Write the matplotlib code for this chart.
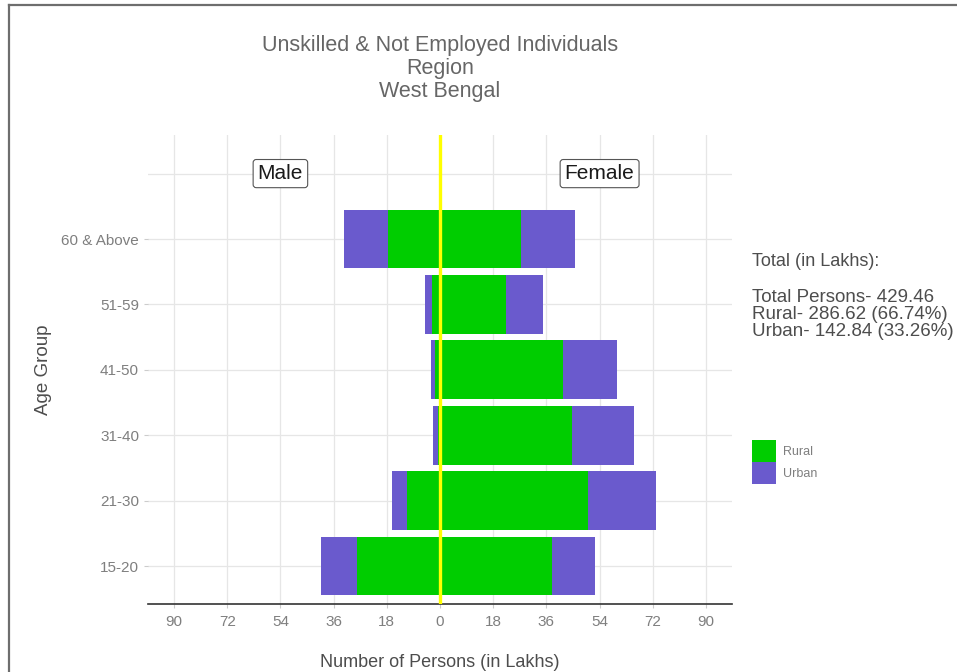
import matplotlib
matplotlib.use("Agg")
import matplotlib.pyplot as plt
from matplotlib.patches import Patch
from matplotlib.lines import Line2D
import numpy as np

plt.rcParams['font.family'] = ['Liberation Sans', 'DejaVu Sans']

age_groups = ["15-20", "21-30", "31-40", "41-50", "51-59", "60 & Above"]
male_rural = [28.0, 11.2, 0.6, 1.7, 2.8, 17.5]
male_urban = [12.1, 4.9, 1.6, 1.3, 2.3, 14.9]
female_rural = [38.0, 50.2, 44.8, 41.5, 22.2, 27.4]
female_urban = [14.6, 23.0, 20.7, 18.5, 12.5, 18.3]
x_ticks = [-90, -72, -54, -36, -18, 0, 18, 36, 54, 72, 90]
x_tick_labels = ["90", "72", "54", "36", "18", "0", "18", "36", "54", "72", "90"]
title_lines = ["Unskilled & Not Employed Individuals", "Region", "West Bengal"]
summary_head = "Total (in Lakhs):"
summary_lines = ["Total Persons- 429.46", "Rural- 286.62 (66.74%)", "Urban- 142.84 (33.26%)"]

RURAL = "#00CD00"
URBAN = "#6A5ACD"
TXT = "#4D4D4D"
TICK = "#7F7F7F"

W, H = 957, 672
fig = plt.figure(figsize=(W/100, H/100), dpi=100)
ax = fig.add_axes([148/W, 68/H, 584/W, 469/H])

pos = np.arange(1, len(age_groups) + 1)
mr = -np.array(male_rural)
mu = -np.array(male_urban)
fr = np.array(female_rural)
fu = np.array(female_urban)
h = 0.9
ax.barh(pos, mr, height=h, color=RURAL, zorder=2)
ax.barh(pos, mu, left=mr, height=h, color=URBAN, zorder=2)
ax.barh(pos, fr, height=h, color=RURAL, zorder=2)
ax.barh(pos, fu, left=fr, height=h, color=URBAN, zorder=2)

ax.axvline(0, color="#FFFF00", lw=2.4, zorder=3)

ax.set_xlim(-98.8, 98.8)
ax.set_ylim(0.42, 7.59)
ax.set_xticks(x_ticks)
ax.set_xticklabels(x_tick_labels)
ax.set_yticks(pos)
ax.set_yticklabels(age_groups)
ax.grid(True, color="#E6E6E6", lw=0.9, zorder=0)
ax.axhline(7, color="#E6E6E6", lw=0.9, zorder=0)
ax.set_axisbelow(True)
for s in ["top", "right", "left"]:
    ax.spines[s].set_visible(False)
ax.spines["bottom"].set_color("#333333")
ax.spines["bottom"].set_linewidth(1.2)
ax.tick_params(axis="both", colors="#CCCCCC", labelcolor=TICK, labelsize=11, length=3)
ax.tick_params(axis="x", pad=5)

ax.set_xlabel("Number of Persons (in Lakhs)", fontsize=13, color=TXT, labelpad=18)
ax.set_ylabel("Age Group", fontsize=13.5, color=TXT, labelpad=7)

box = dict(boxstyle="round,pad=0.22,rounding_size=0.15", fc="white", ec="#555555", lw=0.8)
ax.text(-54, 7, "Male", ha="center", va="center", fontsize=15, color="#1A1A1A", bbox=box, zorder=4)
ax.text(54, 7, "Female", ha="center", va="center", fontsize=15, color="#1A1A1A", bbox=box, zorder=4)

for i, line in enumerate(title_lines):
    fig.text(440/W, 1 - (46 + i*22.5)/H, line, ha="center", va="center",
             fontsize=15.5, color="#666666")

fig.text(752/W, 1 - 261/H, summary_head, ha="left", va="center", fontsize=13, color=TXT)
for i, line in enumerate(summary_lines):
    fig.text(752/W, 1 - (298 + i*16.5)/H, line, ha="left", va="center", fontsize=13.5, color=TXT)

handles = [Patch(facecolor=RURAL, edgecolor="none"), Patch(facecolor=URBAN, edgecolor="none")]
fig.legend(handles, ["Rural", "Urban"], loc="upper left",
           bbox_to_anchor=(747/W, 1 - 435/H), frameon=False, fontsize=9,
           handlelength=1.92, handleheight=2.35, labelspacing=0.0, handletextpad=0.6,
           borderaxespad=0, labelcolor=TICK)

fig.add_artist(Line2D([9/W, 9/W], [0, 1 - 5/H], color="#6E6E6E", lw=1.6, transform=fig.transFigure))
fig.add_artist(Line2D([9/W, 1], [1 - 5/H, 1 - 5/H], color="#6E6E6E", lw=1.6, transform=fig.transFigure))

fig.savefig("out.png", dpi=100)
